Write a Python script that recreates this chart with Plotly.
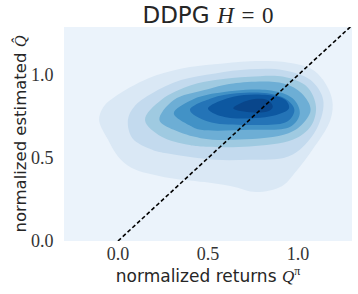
import plotly.graph_objects as go

# ---- data: density iso-contours (data units) ----
level1_x = [-0.105, -0.08, -0.017, 0.166, 0.354, 0.536, 0.735, 0.95, 1.07, 1.14, 1.19, 1.18, 1.08, 0.99, 0.91, 0.77, 0.63, 0.48, 0.26, 0.077, 0.0, -0.055]
level1_y = [0.73, 0.81, 0.87, 0.98, 1.04, 1.065, 1.084, 1.075, 1.04, 0.97, 0.85, 0.73, 0.55, 0.42, 0.33, 0.295, 0.33, 0.355, 0.385, 0.44, 0.51, 0.61]

level2_x = [0.055, 0.09, 0.19, 0.35, 0.54, 0.73, 0.92, 1.07, 1.14, 1.11, 1.01, 0.92, 0.73, 0.54, 0.26, 0.19, 0.08]
level2_y = [0.73, 0.81, 0.89, 0.97, 1.01, 1.035, 1.03, 0.97, 0.85, 0.69, 0.55, 0.50, 0.49, 0.49, 0.53, 0.55, 0.62]

level3_x = [0.15, 0.24, 0.41, 0.54, 0.73, 0.92, 1.05, 1.10, 1.07, 0.97, 0.73, 0.46, 0.39, 0.24]
level3_y = [0.73, 0.85, 0.94, 0.97, 0.99, 0.99, 0.93, 0.81, 0.69, 0.61, 0.57, 0.57, 0.58, 0.63]

level4_x = [0.23, 0.31, 0.48, 0.64, 0.92, 1.02, 1.07, 1.01, 0.92, 0.64, 0.46, 0.31]
level4_y = [0.73, 0.85, 0.91, 0.95, 0.95, 0.89, 0.79, 0.69, 0.64, 0.61, 0.62, 0.67]

level5_x = [0.31, 0.41, 0.54, 0.83, 0.97, 1.01, 0.96, 0.73, 0.46, 0.41]
level5_y = [0.77, 0.85, 0.89, 0.91, 0.86, 0.77, 0.69, 0.67, 0.67, 0.69]

level6_x = [0.40, 0.52, 0.66, 0.83, 0.94, 0.98, 0.94, 0.73, 0.50]
level6_y = [0.79, 0.86, 0.89, 0.89, 0.85, 0.79, 0.72, 0.70, 0.72]

level7_x = [0.50, 0.64, 0.83, 0.93, 0.95, 0.88, 0.64, 0.53]
level7_y = [0.80, 0.87, 0.88, 0.85, 0.80, 0.76, 0.74, 0.77]

level8_x = [0.64, 0.73, 0.83, 0.86, 0.83, 0.70]
level8_y = [0.80, 0.85, 0.85, 0.81, 0.78, 0.78]

diag_x = [0.0, 1.3]
diag_y = [0.0, 1.3]

x_ticks = [0.0, 0.5, 1.0]
x_ticklabels = ["0.0", "0.5", "1.0"]
y_ticks = [0.0, 0.5, 1.0]
y_ticklabels = ["0.0", "0.5", "1.0"]

# ---- styles ----
bg_color = "#ebf3fb"
level_colors = ["#dae8f5", "#c3daee", "#9fcae1", "#6daed5",
                "#4292c6", "#2474b7", "#0d58a1", "#09468b"]
levels = [(level1_x, level1_y), (level2_x, level2_y), (level3_x, level3_y),
          (level4_x, level4_y), (level5_x, level5_y), (level6_x, level6_y),
          (level7_x, level7_y), (level8_x, level8_y)]

SERIF = "Liberation Serif"
SANS = "DejaVu Sans"
SP = "\u2004"

fig = go.Figure()
for (lx, ly), col in zip(levels, level_colors):
    fig.add_trace(go.Scatter(
        x=lx + lx[:1], y=ly + ly[:1], mode="lines", fill="toself",
        fillcolor=col, line=dict(width=0, color=col, shape="spline", smoothing=1.0),
        hoverinfo="skip", showlegend=False))

fig.add_trace(go.Scatter(
    x=diag_x, y=diag_y, mode="lines",
    line=dict(color="black", width=1.6, dash="4px,2.5px"),
    hoverinfo="skip", showlegend=False))

fig.update_layout(
    width=358, height=294,
    margin=dict(l=64, r=6, t=27, b=53),
    paper_bgcolor="white", plot_bgcolor=bg_color,
    showlegend=False,
    title=dict(
        text=f'DDPG{SP}<span style="font-family:{SERIF}"><i>H</i>{SP}={SP}0</span>',
        x=(64 + 352) / 2 / 358, xanchor="center", y=1 - 15 / 294, yanchor="middle",
        font=dict(family=SANS, size=23, color="#262626")),
)
fig.update_xaxes(
    automargin=False,
    range=[-0.3, 1.3], tickvals=x_ticks, ticktext=x_ticklabels,
    showgrid=False, zeroline=False, showline=False,
    ticks="",
    tickfont=dict(family=SERIF, size=18, color="#333333"),
    title=dict(text=f'normalized returns <span style="font-family:{SERIF}"><i>Q</i><sup>π</sup></span>',
               font=dict(family=SANS, size=17, color="#262626"), standoff=5),
)
fig.update_yaxes(
    automargin=False,
    range=[0.0, 1.29], tickvals=y_ticks, ticktext=y_ticklabels,
    showgrid=False, zeroline=False, showline=False,
    ticks="outside", ticklen=6, tickcolor="rgba(0,0,0,0)",
    tickfont=dict(family=SERIF, size=18, color="#333333"),
    title=dict(text=f'normalized estimated <span style="font-family:{SERIF}"><i>Q̂</i></span>',
               font=dict(family=SANS, size=16.5, color="#262626"), standoff=0),
)

fig.write_html("out.html", config={"displayModeBar": False},
               post_script="document.body.style.margin='0';")
